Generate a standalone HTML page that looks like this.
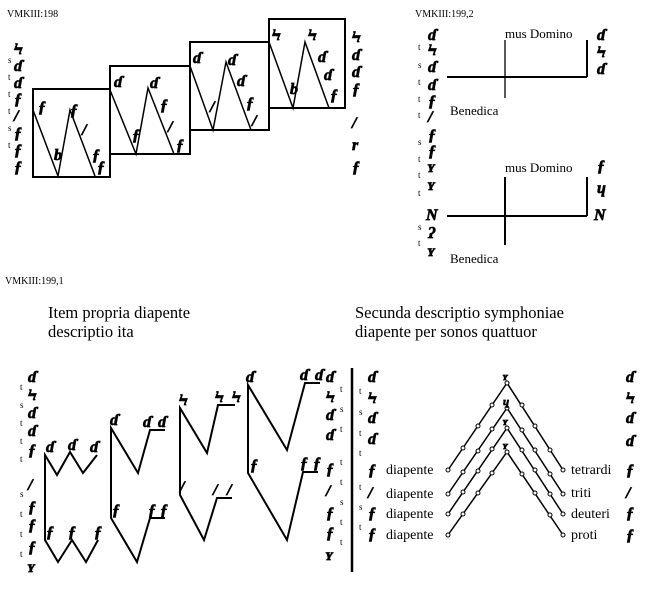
<!DOCTYPE html>
<html><head><meta charset="utf-8"><style>
html,body{margin:0;padding:0;background:#fff;width:655px;height:590px;overflow:hidden}
svg{display:block}
.s{font-family:"Liberation Serif",serif;fill:#000}
.n{font-family:"Liberation Serif",serif;font-style:italic;font-weight:bold;fill:#000;stroke:#000;stroke-width:0.7;font-size:16px}
.l{stroke:#000;fill:none;stroke-width:2}
.t{stroke:#000;fill:none;stroke-width:1.5}
</style></head><body>
<svg width="655" height="590" viewBox="0 0 655 590" xmlns="http://www.w3.org/2000/svg">
<!-- VMKIII:198 -->
<text class="s" x="7" y="17" font-size="10">VMKIII:198</text>
<g class="l" stroke-width="2.4">
<rect x="33" y="89" width="77" height="88"/>
<rect x="110" y="66" width="80" height="88"/>
<rect x="190" y="42" width="79" height="88"/>
<rect x="269" y="19" width="76" height="89"/>
</g>
<g class="t">
<polyline points="33,110 58,176 70,110 95,176"/>
<polyline points="110,90 136,154 148,88 174,154"/>
<polyline points="190,66 213,130 226,62 251,130"/>
<polyline points="269,42 293,108 305,42 329,108"/>
</g>
<g class="n">
<text x="14" y="54">Ϟ</text><text x="14" y="71">ɗ</text><text x="14" y="88">ɗ</text><text x="14" y="104">ƒ</text><text x="14" y="121">/</text><text x="14" y="138">ƒ</text><text x="14" y="155">ƒ</text><text x="14" y="172">ƒ</text>
<text x="352" y="42">Ϟ</text><text x="352" y="60">ɗ</text><text x="352" y="77">ɗ</text><text x="352" y="94">ƒ</text><text x="352" y="128">/</text><text x="352" y="150">r</text><text x="352" y="172">ƒ</text>
<text x="38" y="112">ƒ</text><text x="70" y="115">ƒ</text><text x="82" y="135">/</text><text x="92" y="160">ƒ</text><text x="97" y="172">ƒ</text><text x="54" y="160">b</text>
<text x="114" y="87">ɗ</text><text x="150" y="88">ɗ</text><text x="160" y="110">ƒ</text><text x="168" y="132">/</text><text x="176" y="150">ƒ</text><text x="132" y="140">ƒ</text>
<text x="193" y="63">ɗ</text><text x="228" y="65">ɗ</text><text x="237" y="86">ɗ</text><text x="246" y="108">ƒ</text><text x="252" y="126">/</text><text x="210" y="112">/</text>
<text x="272" y="40">Ϟ</text><text x="308" y="40">Ϟ</text><text x="318" y="62">ɗ</text><text x="324" y="80">ɗ</text><text x="330" y="100">ƒ</text><text x="290" y="94">b</text>
</g>
<g class="s" font-size="9"><text x="8" y="63">s</text><text x="8" y="80">t</text><text x="8" y="97">t</text><text x="8" y="114">t</text><text x="8" y="131">s</text><text x="8" y="148">t</text></g>

<!-- VMKIII:199,2 -->
<text class="s" x="415" y="17" font-size="10">VMKIII:199,2</text>
<g class="l">
<line x1="447" y1="77" x2="587" y2="77"/><line x1="505" y1="40" x2="505" y2="98" stroke-width="1.3"/><line x1="587" y1="40" x2="587" y2="77"/>
<line x1="447" y1="216" x2="587" y2="216"/><line x1="505" y1="177" x2="505" y2="245"/><line x1="587" y1="177" x2="587" y2="216"/>
</g>
<g class="s" font-size="13">
<text x="505" y="38">mus Domino</text><text x="450" y="115">Benedica</text>
<text x="505" y="172">mus Domino</text><text x="450" y="263">Benedica</text>
</g>
<g class="n">
<text x="428" y="40">ɗ</text><text x="428" y="55">Ϟ</text><text x="428" y="72">ɗ</text><text x="428" y="90">ɗ</text><text x="428" y="106">ƒ</text><text x="428" y="122">/</text><text x="428" y="140">ƒ</text><text x="428" y="156">ƒ</text><text x="428" y="172">ʏ</text><text x="426" y="220">N</text><text x="428" y="238">ʔ</text><text x="428" y="256">ʏ</text><text x="428" y="190">ʏ</text>
<text x="597" y="40">ɗ</text><text x="597" y="57">Ϟ</text><text x="597" y="74">ɗ</text>
<text x="597" y="171">ƒ</text><text x="597" y="193">ɥ</text><text x="594" y="220">N</text>
</g>
<g class="s" font-size="9"><text x="418" y="50">t</text><text x="418" y="68">s</text><text x="418" y="85">t</text><text x="418" y="102">t</text><text x="418" y="118">t</text><text x="418" y="145">s</text><text x="418" y="162">t</text><text x="418" y="178">t</text><text x="418" y="196">t</text><text x="418" y="230">s</text><text x="418" y="246">t</text></g>

<!-- VMKIII:199,1 -->
<text class="s" x="5" y="284" font-size="10">VMKIII:199,1</text>
<g class="s" font-size="16.5">
<text x="48" y="318">Item propria diapente</text><text x="48" y="337">descriptio ita</text>
<text x="355" y="318">Secunda descriptio symphoniae</text><text x="355" y="337">diapente per sonos quattuor</text>
</g>
<line x1="352" y1="368" x2="352" y2="572" stroke="#000" stroke-width="2.5"/>
<g class="l">
<polyline points="97,455 83,473 70,452 57,475 45,455 45,540 58,562 72,540 86,562 98,540"/>
<polyline points="165,430 150,430 138,473 111,428 111,518 137,562 150,518 165,518"/>
<polyline points="235,405 218,405 207,453 180,408 180,495 204,540 217,498 232,498"/>
<polyline points="320,383 305,383 287,450 248,385 248,473 287,540 303,472 318,472"/>
</g>
<g class="n">
<text x="28" y="382">ɗ</text><text x="28" y="400">Ϟ</text><text x="28" y="418">ɗ</text><text x="28" y="436">ɗ</text><text x="28" y="455">ƒ</text><text x="28" y="490">/</text><text x="28" y="512">ƒ</text><text x="28" y="530">ƒ</text><text x="28" y="552">ƒ</text><text x="28" y="572">ʏ</text>
<text x="326" y="382">ɗ</text><text x="326" y="402">Ϟ</text><text x="326" y="420">ɗ</text><text x="326" y="440">ɗ</text><text x="326" y="474">ƒ</text><text x="326" y="496">/</text><text x="326" y="518">ƒ</text><text x="326" y="538">ƒ</text><text x="326" y="560">ʏ</text>
<text x="46" y="452">ɗ</text><text x="68" y="450">ɗ</text><text x="90" y="452">ɗ</text><text x="46" y="537">ƒ</text><text x="68" y="537">ƒ</text><text x="94" y="537">ƒ</text>
<text x="110" y="425">ɗ</text><text x="143" y="427">ɗ</text><text x="158" y="427">ɗ</text><text x="112" y="515">ƒ</text><text x="148" y="515">ƒ</text><text x="160" y="515">ƒ</text>
<text x="179" y="405">Ϟ</text><text x="215" y="402">Ϟ</text><text x="232" y="402">Ϟ</text><text x="180" y="492">/</text><text x="213" y="495">/</text><text x="227" y="495">/</text>
<text x="246" y="382">ɗ</text><text x="300" y="380">ɗ</text><text x="315" y="380">ɗ</text><text x="250" y="470">ƒ</text><text x="300" y="468">ƒ</text><text x="313" y="468">ƒ</text>
</g>
<g class="s" font-size="9"><text x="20" y="390">t</text><text x="20" y="408">s</text><text x="20" y="426">t</text><text x="20" y="444">t</text><text x="20" y="462">t</text><text x="20" y="497">s</text><text x="20" y="517">t</text><text x="20" y="537">t</text><text x="20" y="557">t</text>
<text x="340" y="392">t</text><text x="340" y="412">s</text><text x="340" y="432">t</text><text x="340" y="465">t</text><text x="340" y="485">t</text><text x="340" y="505">s</text><text x="340" y="525">t</text><text x="340" y="545">t</text></g>

<!-- Right chevrons -->
<g class="t">
<polyline points="448,470 507,383 563,470"/>
<polyline points="448,494 507,408 563,494"/>
<polyline points="448,514 507,428 563,514"/>
<polyline points="448,535 507,452 563,535"/>
</g>
<g fill="#fff" stroke="#000" stroke-width="1">
<circle cx="448" cy="470" r="2"/><circle cx="448" cy="494" r="2"/><circle cx="448" cy="514" r="2"/><circle cx="448" cy="535" r="2"/>
<circle cx="563" cy="470" r="2"/><circle cx="563" cy="494" r="2"/><circle cx="563" cy="514" r="2"/><circle cx="563" cy="535" r="2"/>
<circle cx="507" cy="383" r="2"/><circle cx="507" cy="408" r="2"/><circle cx="507" cy="428" r="2"/><circle cx="507" cy="452" r="2"/>
<circle cx="463" cy="448" r="2"/><circle cx="478" cy="426" r="2"/><circle cx="492" cy="405" r="2"/>
<circle cx="463" cy="472" r="2"/><circle cx="478" cy="451" r="2"/><circle cx="492" cy="429" r="2"/>
<circle cx="463" cy="492" r="2"/><circle cx="478" cy="471" r="2"/><circle cx="492" cy="449" r="2"/>
<circle cx="463" cy="514" r="2"/><circle cx="478" cy="493" r="2"/><circle cx="492" cy="473" r="2"/>
<circle cx="522" cy="405" r="2"/><circle cx="535" cy="426" r="2"/><circle cx="550" cy="450" r="2"/>
<circle cx="522" cy="430" r="2"/><circle cx="535" cy="450" r="2"/><circle cx="550" cy="474" r="2"/>
<circle cx="522" cy="450" r="2"/><circle cx="535" cy="470" r="2"/><circle cx="550" cy="494" r="2"/>
<circle cx="522" cy="474" r="2"/><circle cx="535" cy="493" r="2"/><circle cx="550" cy="515" r="2"/>
</g>
<g class="s" font-size="14">
<text x="386" y="474">diapente</text><text x="386" y="498">diapente</text><text x="386" y="518">diapente</text><text x="386" y="539">diapente</text>
<text x="571" y="474">tetrardi</text><text x="571" y="497">triti</text><text x="571" y="518">deuteri</text><text x="571" y="539">proti</text>
</g>
<g class="n">
<text x="503" y="380" font-size="11">ʏ</text><text x="503" y="405" font-size="11">ɥ</text><text x="503" y="425" font-size="11">ʏ</text><text x="503" y="449" font-size="11">ʏ</text>
<text x="368" y="382">ɗ</text><text x="368" y="403">Ϟ</text><text x="368" y="423">ɗ</text><text x="368" y="444">ɗ</text><text x="368" y="475">ƒ</text><text x="368" y="498">/</text><text x="368" y="518">ƒ</text><text x="368" y="539">ƒ</text>
<text x="626" y="382">ɗ</text><text x="626" y="403">Ϟ</text><text x="626" y="423">ɗ</text><text x="626" y="446">ɗ</text><text x="626" y="475">ƒ</text><text x="626" y="498">/</text><text x="626" y="518">ƒ</text><text x="626" y="540">ƒ</text>
</g>
<g class="s" font-size="9"><text x="359" y="394">t</text><text x="359" y="415">s</text><text x="359" y="436">t</text><text x="359" y="456">t</text><text x="359" y="490">t</text><text x="359" y="510">s</text><text x="359" y="530">t</text></g>
</svg>
</body></html>
